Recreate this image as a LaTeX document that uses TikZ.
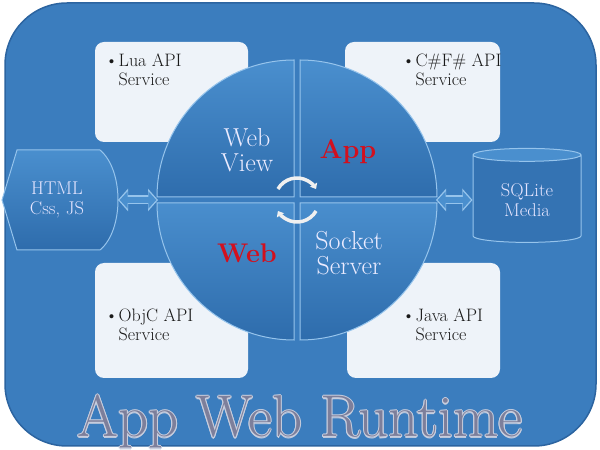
\documentclass[tikz,border=0pt]{standalone}
\usepackage{fontspec}
\usetikzlibrary{shapes.geometric,arrows.meta}
\definecolor{bgblue}{RGB}{59,125,190}
\definecolor{bgrim}{RGB}{44,100,160}
\definecolor{quadtop}{RGB}{74,143,206}
\definecolor{quadbot}{RGB}{46,108,172}
\definecolor{rimblue}{RGB}{150,196,236}
\definecolor{boxwhite}{RGB}{238,243,249}
\definecolor{appred}{RGB}{210,16,30}
\definecolor{titlegray}{RGB}{125,127,155}
\definecolor{titlerim}{RGB}{200,206,222}
\newcommand{\bul}{\textbullet\hspace{0.5pt}}
\tikzset{
  quad/.style={draw=rimblue, line width=1pt, top color=quadtop, bottom color=quadbot},
  apibox/.style={rounded corners=9pt, fill=boxwhite},
  apitext/.style={anchor=north west, inner sep=0pt, align=left, text=black!90,
    font=\fontsize{18}{19}\selectfont},
  quadtext/.style={text=white!92!blue, align=center, font=\fontsize{26}{25}\selectfont},
  redtext/.style={text=appred, font=\fontsize{27}{28}\selectfont\bfseries},
  sidetext/.style={text=white!90!blue, align=center, font=\fontsize{18.5}{20}\selectfont},
  linkrim/.style={draw=rimblue, line width=9pt,
    {Triangle[length=10pt,width=22pt]}-{Triangle[length=10pt,width=22pt]}},
  link/.style={draw=quadtop, line width=5.5pt, shorten <=1.7pt, shorten >=1.7pt,
    {Triangle[length=8pt,width=17pt]}-{Triangle[length=8pt,width=17pt]}},
  spin/.style={draw=gray!12, line width=3.5pt, -{Triangle[length=5pt,width=8pt]}},
  title/.style={anchor=base, inner sep=0pt, text=titlegray, font=\fontsize{59}{59}\selectfont}
}
\begin{document}
\begin{tikzpicture}[x=1pt,y=1pt]
\fill[white] (0,0) rectangle (600,450);
\draw[fill=bgblue,draw=bgrim,line width=1.5pt,rounded corners=62pt] (5,4) rectangle (596,447);
\coordinate (c) at (297,250);
% api boxes behind the circle
\fill[apibox] (95,308) rectangle (248,408);
\fill[apibox] (345,308) rectangle (500,408);
\fill[apibox] (95,72) rectangle (248,187);
\fill[apibox] (347,72) rectangle (500,187);
\node[apitext] (lua) at (105,396) {\bul Lua API\\\phantom{\bul}Service};
\node[apitext] (csharp) at (402,396) {\bul C\#F\# API\\\phantom{\bul}Service};
\node[apitext] (objc) at (105,141) {\bul ObjC API\\\phantom{\bul}Service};
\node[apitext] (java) at (402,141) {\bul Java API\\\phantom{\bul}Service};
% html block
\draw[quad] (2,250) -- (17,300) -- (100,300) .. controls (124,280) and (124,220) .. (100,200) -- (17,200) -- cycle;
\node[sidetext] (html) at (57,250) {HTML\\Css, JS};
\coordinate (hx) at (118,250);
% database
\node[cylinder, shape border rotate=90, aspect=0.22, minimum height=94pt, minimum width=108pt,
  draw=rimblue, line width=1pt, cylinder uses custom fill, cylinder body fill=quadbot!80!quadtop,
  cylinder end fill=quadtop, sidetext] (db) at (527,250) {SQLite\\Media};
% the four quarters
\draw[quad] (c) ++(-3,3) -- ++(-137,0) arc[start angle=180, end angle=90, radius=137] -- cycle;
\draw[quad] (c) ++(3,3) -- ++(0,137) arc[start angle=90, end angle=0, radius=137] -- cycle;
\draw[quad] (c) ++(-3,-3) -- ++(-137,0) arc[start angle=180, end angle=270, radius=137] -- cycle;
\draw[quad] (c) ++(3,-3) -- ++(137,0) arc[start angle=0, end angle=-90, radius=137] -- cycle;
\coordinate (wl) at (158,250);
\coordinate (wr) at (436,250);
\node[quadtext] (view) at (247,300) {Web\\View};
\node[redtext] (app) at (348,298) {App};
\node[redtext] (web) at (247,197) {Web};
\node[quadtext] (socket) at (349,197) {Socket\\Server};
\draw[spin] (c) ++(150:22) arc[start angle=150, end angle=30, radius=22];
\draw[spin] (c) ++(-30:22) arc[start angle=-30, end angle=-150, radius=22];
% double arrows, rim first
\draw[linkrim] (hx) -- (wl);
\draw[link] (hx) -- (wl);
\draw[linkrim] (wr) -- (db);
\draw[link] (wr) -- (db);
% title with light rim
\foreach \a in {0,45,...,315}
  \node[title, text=titlerim, shift={(\a:1)}] (rim\a) at (300,13) {App Web Runtime};
\node[title] (runtime) at (300,13) {App Web Runtime};
\end{tikzpicture}
\end{document}
